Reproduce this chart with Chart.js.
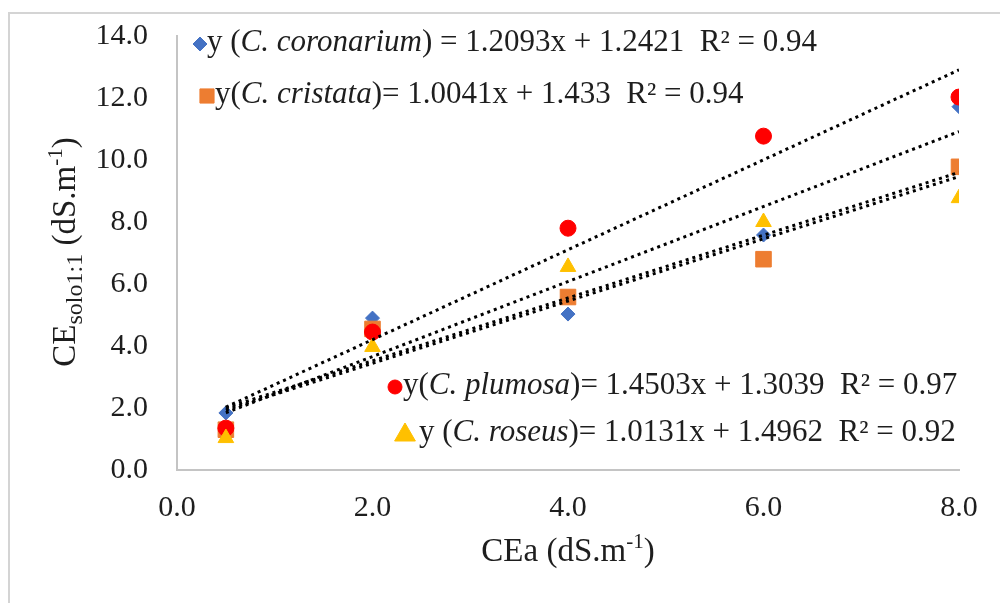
<!DOCTYPE html>
<html>
<head>
<meta charset="utf-8">
<title>CE solo x CEa</title>
<script src="https://cdn.jsdelivr.net/npm/chart.js@4.4.1/dist/chart.umd.min.js"></script>
<style>
  body { margin: 0; background: #fff; }
</style>
</head>
<body>
<canvas id="ceChart" width="1000" height="603"></canvas>
<script>
// Irrigation water salinity levels (CEa, dS/m)
const ceaLevels = [0.5, 2, 4, 6, 8];

// Soil extract EC (1:1) for each species
const coronarium = [1.84, 4.9, 5.03, 7.58, 11.72];
const cristata = [1.3, 4.55, 5.58, 6.8, 9.78];
const plumosa = [1.35, 4.45, 7.8, 10.77, 12.03];
const roseus = [1.03, 3.97, 6.55, 8.0, 8.77];

// Linear fits printed on the chart
const species = ['C. coronarium', 'C. cristata', 'C. plumosa', 'C. roseus'];
const slopes = [1.2093, 1.0041, 1.4503, 1.0131];
const intercepts = [1.2421, 1.433, 1.3039, 1.4962];
const rSquared = ['0.94', '0.94', '0.97', '0.92'];

const xTicks = [0, 2, 4, 6, 8];
const yTicks = [0, 2, 4, 6, 8, 10, 12, 14];

const serif = '"Liberation Serif", "Times New Roman", serif';
const textColor = '#1e1e1e';

// marker look for each series
const markers = [
    { pointStyle: 'rectRot', color: '#4472C4', radius: 7 },
    { pointStyle: 'rect', color: '#ED7D31', radius: 11 },
    { pointStyle: 'circle', color: '#FF0000', radius: 8 },
    { pointStyle: 'triangle', color: '#FFC000', radius: 9 }
];
const seriesValues = [coronarium, cristata, plumosa, roseus];

// where each equation goes: marker position, marker size, text start, opening text
const eqLayout = [
    { mx: 200, my: 44, mr: 7, tx: 207, ty: 43, open: 'y (', close: ') = ' },
    { mx: 207, my: 96, mr: 10, tx: 215, ty: 95, open: 'y(', close: ')= ' },
    { mx: 395, my: 387, mr: 7, tx: 403, ty: 386, open: 'y(', close: ')= ' },
    { mx: 405, my: 435, mr: 12, tx: 419, ty: 433, open: 'y (', close: ')= ' }
];

function toPoints(values) {
    return values.map((v, i) => ({ x: ceaLevels[i], y: v }));
}

// trend line across the measured range, from the printed equation
function trendPoints(i) {
    const x0 = ceaLevels[0];
    const x1 = ceaLevels[ceaLevels.length - 1];
    return [
        { x: x0, y: slopes[i] * x0 + intercepts[i] },
        { x: x1, y: slopes[i] * x1 + intercepts[i] }
    ];
}

const datasets = [];
species.forEach((name, i) => {
    datasets.push({
        label: 'trend ' + name,
        data: trendPoints(i),
        showLine: true,
        borderColor: '#000',
        borderWidth: 3,
        borderDash: [3, 4],
        pointRadius: 0,
        order: 0
    });
});
species.forEach((name, i) => {
    const m = markers[i];
    datasets.push({
        label: name,
        data: toPoints(seriesValues[i]),
        pointStyle: m.pointStyle,
        pointRadius: m.radius,
        backgroundColor: m.color,
        borderColor: m.color,
        borderWidth: 1,
        showLine: false,
        order: 4 - i
    });
});

// draw a list of text runs left to right, returns end x
function drawRuns(ctx, runs, x, y) {
    runs.forEach(r => {
        ctx.font = (r.italic ? 'italic ' : '') + (r.size || 31) + 'px ' + serif;
        ctx.fillText(r.text, x, y + (r.shift || 0));
        x += ctx.measureText(r.text).width;
    });
    return x;
}

function runsWidth(ctx, runs) {
    let w = 0;
    runs.forEach(r => {
        ctx.font = (r.italic ? 'italic ' : '') + (r.size || 31) + 'px ' + serif;
        w += ctx.measureText(r.text).width;
    });
    return w;
}

const annotations = {
    id: 'annotations',
    beforeDraw(chart) {
        const ctx = chart.ctx;
        ctx.save();
        ctx.fillStyle = '#fff';
        ctx.fillRect(0, 0, chart.width, chart.height);
        // page frame
        ctx.strokeStyle = '#d4d4d4';
        ctx.lineWidth = 2;
        ctx.beginPath();
        ctx.moveTo(9, chart.height);
        ctx.lineTo(9, 13);
        ctx.lineTo(chart.width, 13);
        ctx.stroke();
        ctx.restore();
    },
    afterDraw(chart) {
        const ctx = chart.ctx;
        ctx.save();
        ctx.fillStyle = textColor;
        ctx.textBaseline = 'middle';
        ctx.textAlign = 'left';

        // equations with their markers
        eqLayout.forEach((p, i) => {
            const m = markers[i];
            ctx.save();
            ctx.fillStyle = m.color;
            ctx.strokeStyle = m.color;
            Chart.helpers.drawPoint(ctx, { pointStyle: m.pointStyle, radius: p.mr, borderWidth: 1 }, p.mx, p.my);
            ctx.restore();
            drawRuns(ctx, [
                { text: p.open },
                { text: species[i], italic: true },
                { text: p.close + slopes[i] + 'x + ' + intercepts[i] + '  R\u00B2 = ' + rSquared[i] }
            ], p.tx, p.ty);
        });

        // x axis title
        const xRuns = [
            { text: 'CEa (dS.m', size: 33 },
            { text: '-1', size: 21, shift: -10 },
            { text: ')', size: 33 }
        ];
        const xMid = (chart.chartArea.left + chart.chartArea.right) / 2;
        drawRuns(ctx, xRuns, xMid - runsWidth(ctx, xRuns) / 2, 552);

        // y axis title, rotated
        const yRuns = [
            { text: 'CE', size: 33 },
            { text: 'solo1:1', size: 24, shift: 10 },
            { text: ' (dS.m', size: 33 },
            { text: '-1', size: 21, shift: -10 },
            { text: ')', size: 33 }
        ];
        ctx.translate(66, 252);
        ctx.rotate(-Math.PI / 2);
        drawRuns(ctx, yRuns, -runsWidth(ctx, yRuns) / 2, 0);
        ctx.restore();
    }
};

const tickFont = { family: serif, size: 30 };

new Chart(document.getElementById('ceChart'), {
    type: 'scatter',
    data: { datasets: datasets },
    options: {
        responsive: false,
        animation: false,
        events: [],
        layout: { padding: { left: 0, right: 41, top: 36, bottom: 0 } },
        plugins: {
            legend: { display: false },
            tooltip: { enabled: false }
        },
        scales: {
            x: {
                type: 'linear',
                min: 0,
                max: 8,
                afterBuildTicks: scale => { scale.ticks = xTicks.map(v => ({ value: v })); },
                afterFit: scale => { scale.height = 133; },
                grid: { display: false, drawTicks: false },
                border: { color: '#c4c4c4', width: 2 },
                ticks: {
                    font: tickFont,
                    color: textColor,
                    padding: 20,
                    maxRotation: 0,
                    callback: v => v.toFixed(1)
                }
            },
            y: {
                type: 'linear',
                min: 0,
                max: 14,
                afterBuildTicks: scale => { scale.ticks = yTicks.map(v => ({ value: v })); },
                afterFit: scale => { scale.width = 177; },
                // tick marks stay hidden; their length only spaces the labels
                grid: { display: false, drawTicks: true, tickLength: 24 },
                border: { color: '#c4c4c4', width: 2 },
                ticks: {
                    font: tickFont,
                    color: textColor,
                    padding: 5,
                    callback: v => v.toFixed(1)
                }
            }
        }
    },
    plugins: [annotations]
});
</script>
</body>
</html>
